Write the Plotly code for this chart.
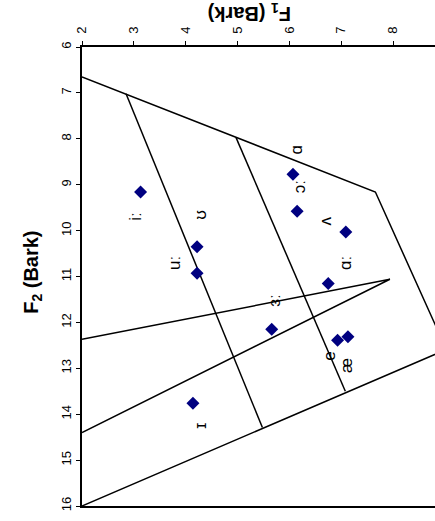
import plotly.graph_objects as go

# Vowel markers (F1 in Bark, F2 in Bark)
vowels = ["iː", "ʊ", "uː", "ɑ", "ɔː", "ʌ", "ɑː", "ɜː", "e", "æ", "ɪ"]
marker_f1 = [3.13, 4.22, 4.22, 6.07, 6.15, 7.09, 6.75, 5.66, 6.93, 7.13, 4.14]
marker_f2 = [9.16, 10.35, 10.93, 8.77, 9.58, 10.03, 11.15, 12.15, 12.39, 12.31, 13.76]

# Label positions for the vowel symbols
label_f1 = [3.04, 4.29, 3.77, 6.14, 6.19, 6.69, 7.07, 5.72, 6.77, 7.09, 4.27]
label_f2 = [9.68, 9.66, 10.71, 8.24, 9.05, 9.80, 10.71, 11.51, 12.74, 12.93, 14.26]

# Vowel-space outline and dividing lines
outline_f1 = [2.0, 7.66, 9.03, 2.0]
outline_f2 = [6.65, 9.16, 12.59, 16.0]
div1_f1 = [2.85, 5.48]
div1_f2 = [7.02, 14.29]
div2_f1 = [4.97, 7.08]
div2_f2 = [7.97, 13.50]
wedge_f1 = [2.0, 7.94, 2.0]
wedge_f2 = [12.37, 11.06, 14.40]

x_ticks = [2, 3, 4, 5, 6, 7, 8]
y_ticks = [6, 7, 8, 9, 10, 11, 12, 13, 14, 15, 16]

FONT = "Arial, Liberation Sans, DejaVu Sans, sans-serif"

fig = go.Figure()
line_style = dict(color="black", width=1.5)
for xs, ys in [(outline_f1, outline_f2), (div1_f1, div1_f2),
               (div2_f1, div2_f2), (wedge_f1, wedge_f2)]:
    fig.add_trace(go.Scatter(x=xs, y=ys, mode="lines", line=line_style,
                             hoverinfo="skip", showlegend=False))

fig.add_trace(go.Scatter(x=marker_f1, y=marker_f2, mode="markers",
                         marker=dict(symbol="diamond", size=10, color="#000080"),
                         text=vowels, showlegend=False))

for v, lx, ly in zip(vowels, label_f1, label_f2):
    fig.add_annotation(x=lx, y=ly, text=v, textangle=-90, showarrow=False,
                       xanchor="center", yanchor="middle",
                       font=dict(family=FONT, size=17, color="black"))

fig.add_annotation(xref="paper", yref="paper", x=0.476, y=1.074,
                   xanchor="center", yanchor="middle",
                   text="<b>F<sub>1</sub> (Bark)</b>", textangle=180,
                   showarrow=False, font=dict(family=FONT, size=20, color="black"))
fig.add_annotation(xref="paper", yref="paper", x=-0.139, y=0.51,
                   xanchor="center", yanchor="middle",
                   text="<b>F<sub>2</sub> (Bark)</b>", textangle=-90,
                   showarrow=False, font=dict(family=FONT, size=20, color="black"))

fig.update_layout(
    width=435, height=521,
    margin=dict(l=82, r=0, t=47, b=15, autoexpand=False),
    plot_bgcolor="white", paper_bgcolor="white",
    font=dict(family=FONT, size=13, color="black"),
    xaxis=dict(range=[2, 8.81], side="top", tickvals=x_ticks, tickangle=-90,
               automargin=False, ticklabelstandoff=5,
               showgrid=False, zeroline=False, showline=True, mirror=True,
               linecolor="black", linewidth=1.5, ticks="outside", ticklen=4,
               tickcolor="black", tickfont=dict(size=13)),
    yaxis=dict(range=[16, 6], tickvals=y_ticks, tickangle=-90,
               automargin=False,
               showgrid=False, zeroline=False, showline=True, mirror=False,
               linecolor="black", linewidth=1.5, ticks="outside", ticklen=4,
               tickcolor="black", tickfont=dict(size=13)),
)

fig.write_html("out.html", config={"displayModeBar": False},
               post_script="document.body.style.margin='0';document.body.style.overflow='hidden';")
